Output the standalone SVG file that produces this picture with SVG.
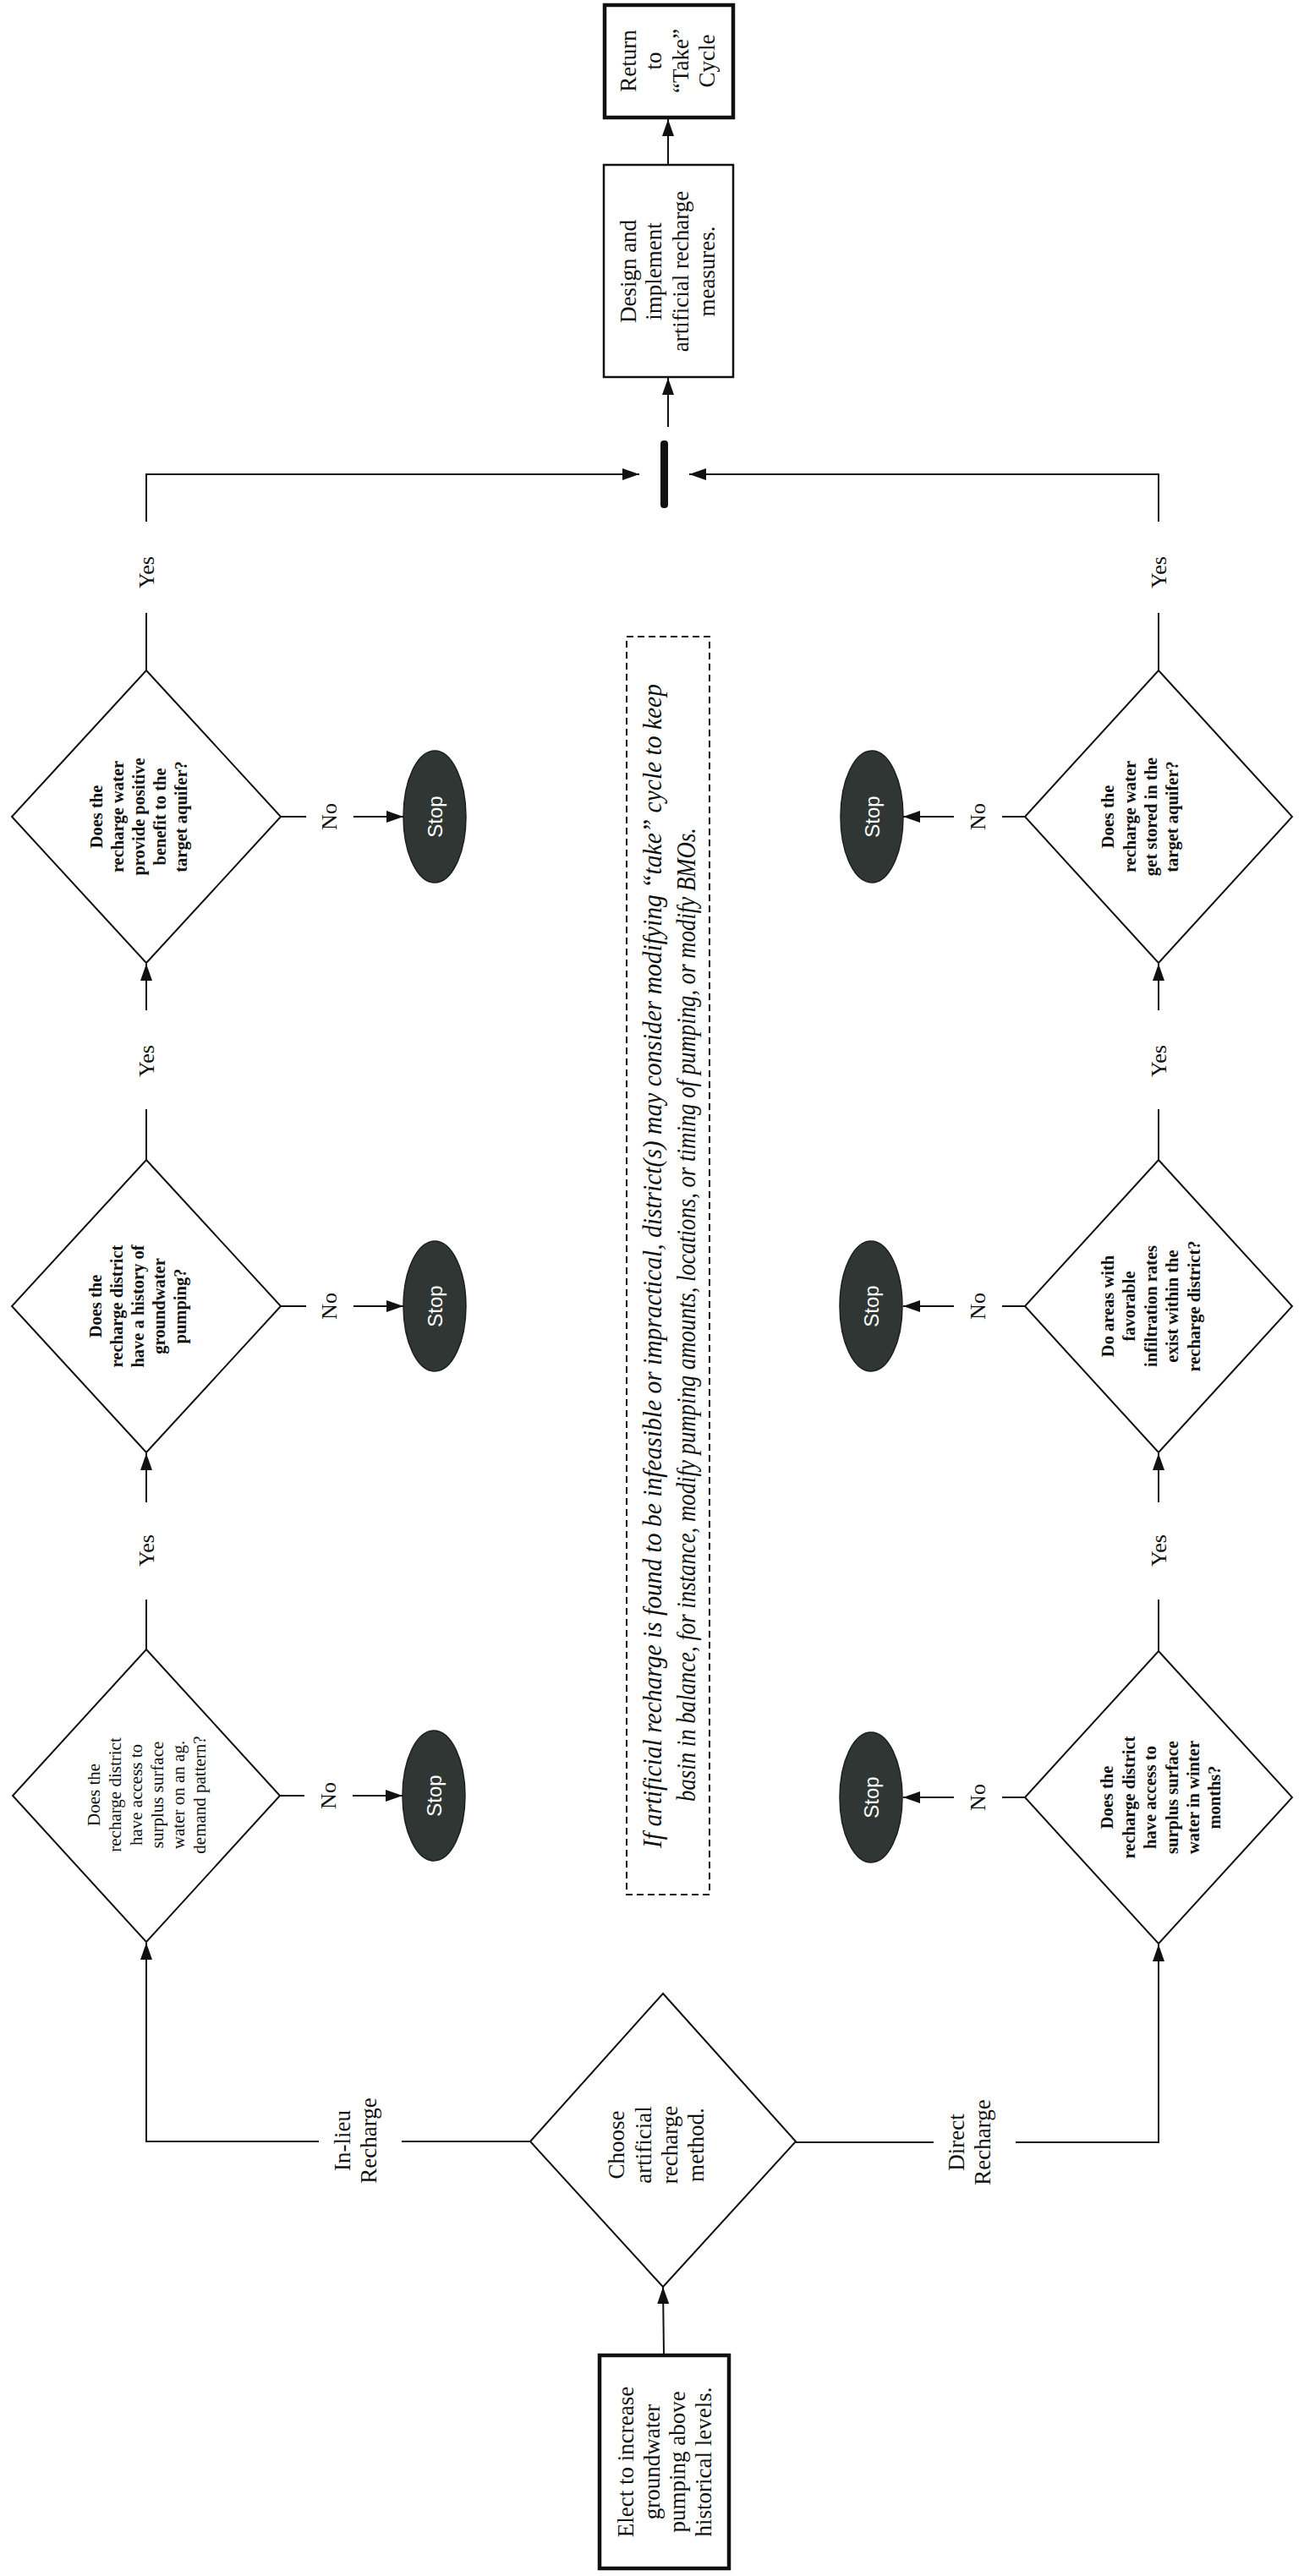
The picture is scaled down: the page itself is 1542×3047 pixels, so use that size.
<svg xmlns="http://www.w3.org/2000/svg" width="1542" height="3047" viewBox="0 0 1542 3047">
<style>
.bg{fill:#ffffff}
.box{fill:#ffffff;stroke:#111;stroke-width:2.5}
.boxb{fill:#ffffff;stroke:#111;stroke-width:4.5}
.dia{fill:#ffffff;stroke:#111;stroke-width:2}
.stop{fill:#2f3633;stroke:#1c201e;stroke-width:1.5}
.stoptxt{font-family:"Liberation Sans","Open Sans",sans-serif;font-size:24px;fill:#ffffff;text-anchor:middle}
.t{font-family:"Liberation Serif","Times New Roman",serif;font-size:27px;fill:#111;text-anchor:middle}
.lbl{font-family:"Liberation Serif","Times New Roman",serif;font-size:26px;fill:#111;text-anchor:middle}
.q{font-family:"Liberation Serif","Times New Roman",serif;font-size:20.5px;font-weight:bold;fill:#111;text-anchor:middle}
.qn{font-family:"Liberation Serif","Times New Roman",serif;font-size:21px;fill:#111;text-anchor:middle}
.note{font-family:"Liberation Serif","Times New Roman",serif;font-style:italic;font-size:31px;fill:#111;text-anchor:middle}
.ln{fill:none;stroke:#111;stroke-width:2}
.dash{fill:none;stroke:#111;stroke-width:2;stroke-dasharray:8 5}
</style>
<defs>
<marker id="ah" markerUnits="userSpaceOnUse" markerWidth="20" markerHeight="16" refX="20" refY="7" orient="auto">
<path d="M0,0 L20,7 L0,14 z" fill="#111"/>
</marker>
</defs>
<rect class="bg" x="0" y="0" width="1542" height="3047"/>

<g id="connectors">
<path class="ln" d="M785,2785 L784,2705" marker-end="url(#ah)"/>
<path class="ln" d="M627,2533 L475,2533"/>
<path class="ln" d="M377,2533 L173,2533 L173,2298" marker-end="url(#ah)"/>
<path class="ln" d="M941,2534 L1104,2534"/>
<path class="ln" d="M1201,2534 L1370,2534 L1370,2300" marker-end="url(#ah)"/>
<path class="ln" d="M332,966 L362,966"/>
<path class="ln" d="M418,966 L477,966" marker-end="url(#ah)"/>
<path class="ln" d="M332,1545 L362,1545"/>
<path class="ln" d="M418,1545 L477,1545" marker-end="url(#ah)"/>
<path class="ln" d="M331,2124 L360,2124"/>
<path class="ln" d="M417,2124 L476,2124" marker-end="url(#ah)"/>
<path class="ln" d="M1212,966 L1185,966"/>
<path class="ln" d="M1128,966 L1068,966" marker-end="url(#ah)"/>
<path class="ln" d="M1212,1545 L1185,1545"/>
<path class="ln" d="M1128,1545 L1068,1545" marker-end="url(#ah)"/>
<path class="ln" d="M1212,2126 L1185,2126"/>
<path class="ln" d="M1128,2126 L1068,2126" marker-end="url(#ah)"/>
<path class="ln" d="M173,1951 L173,1892"/>
<path class="ln" d="M173,1777 L173,1719" marker-end="url(#ah)"/>
<path class="ln" d="M173,1372 L173,1312"/>
<path class="ln" d="M173,1195 L173,1140" marker-end="url(#ah)"/>
<path class="ln" d="M173,793 L173,725"/>
<path class="ln" d="M173,617 L173,561 L756,561" marker-end="url(#ah)"/>
<path class="ln" d="M1370,1953 L1370,1892"/>
<path class="ln" d="M1370,1777 L1370,1719" marker-end="url(#ah)"/>
<path class="ln" d="M1370,1372 L1370,1312"/>
<path class="ln" d="M1370,1195 L1370,1140" marker-end="url(#ah)"/>
<path class="ln" d="M1370,793 L1370,725"/>
<path class="ln" d="M1370,617 L1370,561 L815,561" marker-end="url(#ah)"/>
<path class="ln" d="M790,505 L790,447" marker-end="url(#ah)"/>
<path class="ln" d="M790,195 L790,141" marker-end="url(#ah)"/>
<text class="t" transform="translate(420,2532) rotate(-90)"><tspan x="0" y="-6">In-lieu</tspan><tspan x="0" y="25">Recharge</tspan></text>
<text class="t" transform="translate(1146,2534) rotate(-90)"><tspan x="0" y="-6">Direct</tspan><tspan x="0" y="25">Recharge</tspan></text>
<text class="lbl" transform="translate(389,966) rotate(-90)" y="9">No</text>
<text class="lbl" transform="translate(389,1545) rotate(-90)" y="9">No</text>
<text class="lbl" transform="translate(388,2124) rotate(-90)" y="9">No</text>
<text class="lbl" transform="translate(1156,966) rotate(-90)" y="9">No</text>
<text class="lbl" transform="translate(1156,1545) rotate(-90)" y="9">No</text>
<text class="lbl" transform="translate(1156,2126) rotate(-90)" y="9">No</text>
<text class="lbl" transform="translate(173,677) rotate(-90)" y="9">Yes</text>
<text class="lbl" transform="translate(173,1255) rotate(-90)" y="9">Yes</text>
<text class="lbl" transform="translate(173,1834) rotate(-90)" y="9">Yes</text>
<text class="lbl" transform="translate(1370,677) rotate(-90)" y="9">Yes</text>
<text class="lbl" transform="translate(1370,1255) rotate(-90)" y="9">Yes</text>
<text class="lbl" transform="translate(1370,1834) rotate(-90)" y="9">Yes</text>
</g>

<g id="start">
<rect class="boxb" x="709" y="2786" width="153" height="252"/>
<text class="t" transform="translate(785.5,2912) rotate(-90)"><tspan x="0" y="-37">Elect to increase</tspan><tspan x="0" y="-6">groundwater</tspan><tspan x="0" y="24.5">pumping above</tspan><tspan x="0" y="55">historical levels.</tspan></text>
</g>

<g id="choose">
<polygon class="dia" points="784,2358 941,2533 784,2705 627,2533"/>
<text class="t" transform="translate(784,2537) rotate(-90)"><tspan x="0" y="-46.5">Choose</tspan><tspan x="0" y="-14.5">artificial</tspan><tspan x="0" y="16.5">recharge</tspan><tspan x="0" y="47.5">method.</tspan></text>
</g>

<g id="q-ag-demand">
<polygon class="dia" points="173,1951 331,2124 173,2297 15,2124"/>
<text class="qn" transform="translate(173,2123) rotate(-90)"><tspan x="0" y="-55">Does the</tspan><tspan x="0" y="-30">recharge district</tspan><tspan x="0" y="-5">have access to</tspan><tspan x="0" y="20">surplus surface</tspan><tspan x="0" y="45">water on an ag.</tspan><tspan x="0" y="70">demand pattern?</tspan></text>
</g>

<g id="q-history">
<polygon class="dia" points="173,1372 332,1545 173,1718 14,1545"/>
<text class="q" transform="translate(173,1545) rotate(-90)"><tspan x="0" y="-53">Does the</tspan><tspan x="0" y="-28">recharge district</tspan><tspan x="0" y="-3">have a history of</tspan><tspan x="0" y="22">groundwater</tspan><tspan x="0" y="47">pumping?</tspan></text>
</g>

<g id="q-benefit">
<polygon class="dia" points="173,793 332,966 173,1139 14,966"/>
<text class="q" transform="translate(173,966) rotate(-90)"><tspan x="0" y="-52">Does the</tspan><tspan x="0" y="-27">recharge water</tspan><tspan x="0" y="-2">provide positive</tspan><tspan x="0" y="23">benefit to the</tspan><tspan x="0" y="48">target aquifer?</tspan></text>
</g>

<g id="q-winter">
<polygon class="dia" points="1370,1953 1528,2126 1370,2299 1212,2126"/>
<text class="q" transform="translate(1370,2126) rotate(-90)"><tspan x="0" y="-54">Does the</tspan><tspan x="0" y="-28.5">recharge district</tspan><tspan x="0" y="-3">have access to</tspan><tspan x="0" y="22.5">surplus surface</tspan><tspan x="0" y="48">water in winter</tspan><tspan x="0" y="73">months?</tspan></text>
</g>

<g id="q-infiltration">
<polygon class="dia" points="1370,1372 1528,1545 1370,1718 1212,1545"/>
<text class="q" transform="translate(1370,1545) rotate(-90)"><tspan x="0" y="-53">Do areas with</tspan><tspan x="0" y="-28">favorable</tspan><tspan x="0" y="-2">infiltration rates</tspan><tspan x="0" y="23">exist within the</tspan><tspan x="0" y="49">recharge district?</tspan></text>
</g>

<g id="q-stored">
<polygon class="dia" points="1370,793 1528,966 1370,1139 1212,966"/>
<text class="q" transform="translate(1370,966) rotate(-90)"><tspan x="0" y="-53">Does the</tspan><tspan x="0" y="-27">recharge water</tspan><tspan x="0" y="-2">get stored in the</tspan><tspan x="0" y="23">target aquifer?</tspan></text>
</g>

<g id="stop-l1"><ellipse class="stop" cx="514" cy="966" rx="37" ry="78"/><text class="stoptxt" transform="translate(514,966) rotate(-90)" y="8.5">Stop</text></g>
<g id="stop-l2"><ellipse class="stop" cx="514" cy="1545" rx="37" ry="77"/><text class="stoptxt" transform="translate(514,1545) rotate(-90)" y="8.5">Stop</text></g>
<g id="stop-l3"><ellipse class="stop" cx="513" cy="2124" rx="37" ry="77"/><text class="stoptxt" transform="translate(513,2124) rotate(-90)" y="8.5">Stop</text></g>
<g id="stop-r1"><ellipse class="stop" cx="1031" cy="966" rx="37" ry="78"/><text class="stoptxt" transform="translate(1031,966) rotate(-90)" y="8.5">Stop</text></g>
<g id="stop-r2"><ellipse class="stop" cx="1030" cy="1545" rx="37" ry="77"/><text class="stoptxt" transform="translate(1030,1545) rotate(-90)" y="8.5">Stop</text></g>
<g id="stop-r3"><ellipse class="stop" cx="1030" cy="2126" rx="37" ry="77"/><text class="stoptxt" transform="translate(1030,2126) rotate(-90)" y="8.5">Stop</text></g>

<g id="note">
<rect class="dash" x="741" y="753" width="98" height="1488"/>
<text class="note" transform="translate(772,1497.5) rotate(-90)" y="10" textLength="1377" lengthAdjust="spacingAndGlyphs">If artificial recharge is found to be infeasible or impractical, district(s) may consider modifying “take” cycle to keep</text>
<text class="note" transform="translate(812,1555) rotate(-90)" y="10" textLength="1152" lengthAdjust="spacingAndGlyphs">basin in balance, for instance, modify pumping amounts, locations, or timing of pumping, or modify BMOs.</text>
</g>

<g id="junction">
<rect x="781" y="521" width="9" height="80" rx="4" fill="#111"/>
</g>

<g id="design">
<rect class="box" x="714" y="195" width="153" height="251"/>
<text class="t" transform="translate(790.5,321) rotate(-90)"><tspan x="0" y="-39">Design and</tspan><tspan x="0" y="-8.5">implement</tspan><tspan x="0" y="23.5">artificial recharge</tspan><tspan x="0" y="54">measures.</tspan></text>
</g>

<g id="return">
<rect class="boxb" x="715" y="6" width="152" height="133"/>
<text class="t" transform="translate(790.5,72) rotate(-90)"><tspan x="0" y="-39">Return</tspan><tspan x="0" y="-8.5">to</tspan><tspan x="0" y="23.5">“Take”</tspan><tspan x="0" y="54">Cycle</tspan></text>
</g>
</svg>
